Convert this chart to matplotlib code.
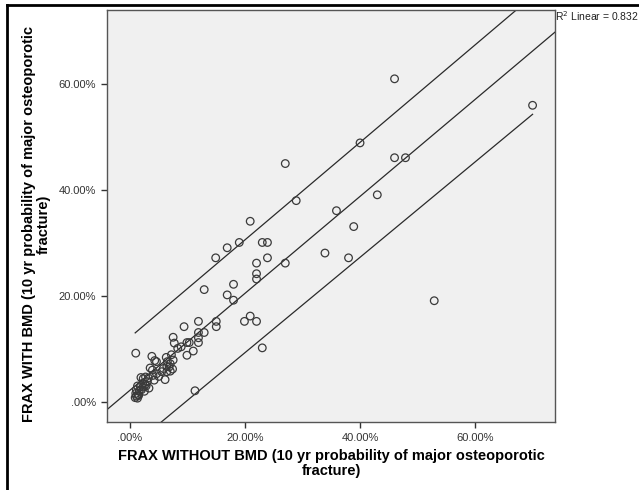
#### Scatter of FRAX with vs without BMD, with linear fit and prediction lines
import numpy as np
import matplotlib.pyplot as plt
from matplotlib.lines import Line2D

# FRAX without BMD (x) and with BMD (y), in percent
frax_without = [46.0, 70.0, 40.0, 27.0, 46.0, 47.9, 43.0, 28.9, 35.9, 38.9,
                20.9, 19.0, 16.9, 23.0, 23.9, 14.9, 23.9, 33.9, 38.0, 27.0,
                22.0, 22.0, 22.0, 18.0, 12.9, 16.9, 18.0, 52.9, 20.9, 19.9,
                22.0, 15.0, 15.0, 11.9, 9.4, 11.9, 12.9, 11.9, 11.9, 9.9,
                10.3, 11.0, 9.9, 23.0, 11.3, 8.9, 7.5, 7.7, 8.3, 1.0,
                3.8, 4.6, 4.3, 6.3, 7.2, 7.5, 6.5, 7.0, 6.8, 7.4,
                6.4, 7.0, 3.5, 3.9, 4.6, 4.0, 5.5, 6.4, 6.1, 5.0,
                1.9, 2.3, 2.7, 3.2, 2.2, 2.7, 1.3, 1.8, 2.3, 2.8,
                3.3, 1.1, 1.6, 2.0, 1.0, 1.4, 1.1, 1.5, 0.9, 1.3,
                2.5, 3.0, 4.2, 5.8]
frax_with = [61.0, 56.0, 48.9, 45.0, 46.1, 46.1, 39.1, 38.0, 36.1, 33.1,
             34.1, 30.1, 29.1, 30.1, 30.1, 27.2, 27.2, 28.1, 27.2, 26.2,
             26.2, 24.2, 23.2, 22.2, 21.2, 20.2, 19.2, 19.1, 16.2, 15.2,
             15.2, 15.2, 14.2, 15.2, 14.2, 13.1, 13.1, 12.1, 11.2, 11.2,
             11.2, 9.6, 8.8, 10.2, 2.1, 10.4, 12.2, 11.1, 10.1, 9.2,
             8.6, 7.6, 7.8, 8.4, 8.9, 7.9, 7.6, 7.2, 6.6, 6.2,
             6.7, 5.8, 6.4, 6.0, 5.3, 5.0, 5.7, 5.7, 4.2, 4.8,
             4.6, 4.4, 4.7, 4.5, 3.5, 3.3, 3.0, 2.9, 2.8, 3.0,
             2.6, 2.3, 2.1, 2.3, 1.6, 1.4, 1.1, 1.2, 0.8, 0.7,
             2.0, 3.8, 4.1, 6.3]

# fit line and prediction lines as (intercept, slope)
fit_line = (2.2, 0.915)
upper_line = (12.2, 0.92)
lower_line = (-8.7, 0.90)
r2_linear = 0.832

tick_values = [0, 20, 40, 60]
tick_labels = ['.00%', '20.00%', '40.00%', '60.00%']

plt.rcParams['font.family'] = ['Liberation Sans', 'DejaVu Sans']

fig = plt.figure(figsize=(6.39, 4.9), dpi=100)
ax = fig.add_axes([107 / 639, 1 - 422 / 490, 448 / 639, 411.5 / 490])
ax.set_facecolor('#f0f0f0')

x_lo, x_hi = -4.0, 73.9
ax.set_xlim(x_lo, x_hi)
ax.set_ylim(-3.8, 73.9)

# scatter points
ax.scatter(frax_without, frax_with, s=30, facecolors='none',
           edgecolors='#3a3a3a', linewidths=0.9, zorder=3)

# fit line across the whole axis, prediction lines across the data range
xs = np.array([x_lo, x_hi])
ax.plot(xs, fit_line[0] + fit_line[1] * xs, color='#2a2a2a', lw=0.9, zorder=2)
xd = np.array([min(frax_without), max(frax_without)])
ax.plot(xd, upper_line[0] + upper_line[1] * xd, color='#2a2a2a', lw=0.9, zorder=2)
ax.plot(xd, lower_line[0] + lower_line[1] * xd, color='#2a2a2a', lw=0.9, zorder=2)

ax.set_xticks(tick_values)
ax.set_xticklabels(tick_labels)
ax.set_yticks(tick_values)
ax.set_yticklabels(tick_labels)
ax.tick_params(direction='out', length=4, width=1, colors='#333333',
               labelsize=8, pad=4)
for sp in ax.spines.values():
    sp.set_color('#555555')
    sp.set_linewidth(1)

ax.set_xlabel('FRAX WITHOUT BMD (10 yr probability of major osteoporotic\nfracture)',
              fontsize=10.5, fontweight='bold', linespacing=1.05, va='top')
ax.xaxis.set_label_coords(0.5, -0.066)
ax.set_ylabel('FRAX WITH BMD (10 yr probability of major osteoporotic\nfracture)',
              fontsize=10.5, fontweight='bold', linespacing=1.05)
ax.yaxis.set_label_coords(-0.125, 0.48)

# R2 annotation outside the plot, at the right edge
fig.text(555 / 639, 1 - 9 / 490, 'R$^2$ Linear = %.3f' % r2_linear,
         fontsize=7.5, color='#222222', va='top', ha='left')

# black frame, top and left edges
fig.add_artist(Line2D([7 / 639, 1], [1 - 5 / 490, 1 - 5 / 490],
                      transform=fig.transFigure, color='black', lw=2))
fig.add_artist(Line2D([7 / 639, 7 / 639], [0, 1 - 5 / 490],
                      transform=fig.transFigure, color='black', lw=2))

fig.savefig('out.png', dpi=100)
